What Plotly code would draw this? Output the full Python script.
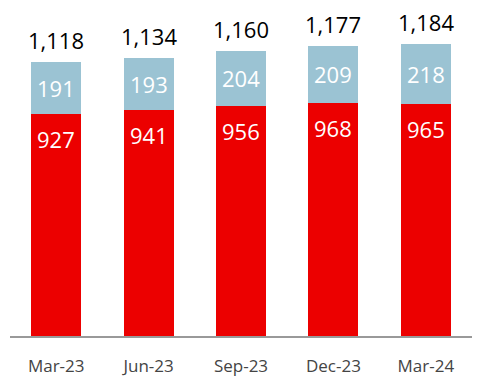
import plotly.graph_objects as go

categories = ["Mar-23", "Jun-23", "Sep-23", "Dec-23", "Mar-24"]
base_values = [927, 941, 956, 968, 965]
top_values = [191, 193, 204, 209, 218]
totals = [1118, 1134, 1160, 1177, 1184]

RED = "#EC0000"
BLUE = "#9BC3D3"
FONT = "Open Sans"

fig = go.Figure()
fig.add_trace(go.Bar(x=categories, y=base_values, marker_color=RED,
                     marker_line_width=0, hoverinfo="skip"))
fig.add_trace(go.Bar(x=categories, y=top_values, marker_color=BLUE,
                     marker_line_width=0, hoverinfo="skip"))

annotations = []
for c, b, t, tot in zip(categories, base_values, top_values, totals):
    annotations.append(dict(x=c, y=tot, text=f"{tot:,}", showarrow=False,
                            yanchor="bottom", yshift=5,
                            font=dict(family=FONT, size=22, color="#000000")))
    annotations.append(dict(x=c, y=b + t / 2, text=str(t), showarrow=False,
                            yanchor="middle",
                            font=dict(family=FONT, size=22, color="#FFFFFF")))
    annotations.append(dict(x=c, y=b, text=str(b), showarrow=False,
                            yanchor="top", yshift=-8,
                            font=dict(family=FONT, size=22, color="#FFFFFF")))

fig.update_layout(
    barmode="stack",
    bargap=0.46,
    width=482, height=384,
    margin=dict(l=10, r=10, t=0, b=48),
    paper_bgcolor="#FFFFFF", plot_bgcolor="#FFFFFF",
    showlegend=False,
    annotations=annotations,
    xaxis=dict(showline=True, linecolor="#999999", linewidth=2,
               ticks="outside", ticklen=14, tickcolor="rgba(0,0,0,0)",
               tickfont=dict(family=FONT, size=17, color="#444444"),
               showgrid=False, zeroline=False),
    yaxis=dict(range=[111, 1346], visible=False, showgrid=False, zeroline=False),
)

fig.write_html("out.html", config={"displayModeBar": False, "staticPlot": True})

# remove the default page margin so the figure fills the window exactly
with open("out.html", encoding="utf-8") as f:
    html = f.read()
html = html.replace("<body>", '<body style="margin:0;overflow:hidden">', 1)
with open("out.html", "w", encoding="utf-8") as f:
    f.write(html)
